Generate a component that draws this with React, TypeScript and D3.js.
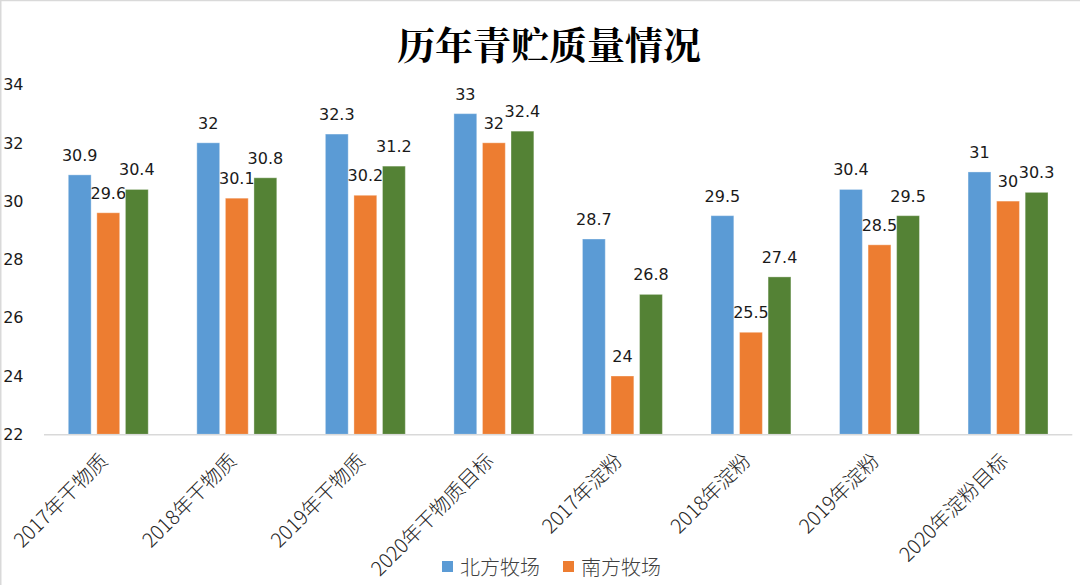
import React from "react";
import * as d3 from "d3";

const categories = [
  "2017年干物质",
  "2018年干物质",
  "2019年干物质",
  "2020年干物质目标",
  "2017年淀粉",
  "2018年淀粉",
  "2019年淀粉",
  "2020年淀粉目标",
];
const seriesNames = ["北方牧场", "南方牧场", "系列3"];
const north = [30.9, 32, 32.3, 33, 28.7, 29.5, 30.4, 31];
const south = [29.6, 30.1, 30.2, 32, 24, 25.5, 28.5, 30];
const third = [30.4, 30.8, 31.2, 32.4, 26.8, 27.4, 29.5, 30.3];
const yTicks = [22, 24, 26, 28, 30, 32, 34];
const colors = ["#5B9BD5", "#ED7D31", "#548235"];
const legendSeries = [0, 1];

const W = 1080;
const H = 585;

export default function App() {
  const values = [north, south, third];
  const x0 = d3
    .scaleBand<string>()
    .domain(categories)
    .range([44, 1072.3])
    .paddingInner(0.378)
    .paddingOuter(0.189);
  const x1 = d3
    .scaleBand<number>()
    .domain([0, 1, 2])
    .range([0, x0.bandwidth()])
    .paddingInner(0.2);
  const y = d3.scaleLinear().domain([22, 34]).range([434.3, 84.5]);

  const font = "'DejaVu Sans', sans-serif";
  const cjk = "'Noto Sans CJK SC', sans-serif";

  return (
    <svg
      width={W}
      height={H}
      style={{ position: "fixed", left: 0, top: 0, background: "#fff" }}
    >
      <rect x={0} y={0} width={W} height={H} fill="#fff" />
      <line x1={0} y1={0.5} x2={W} y2={0.5} stroke="#d9d9d9" strokeWidth={1.5} />
      <line x1={0.75} y1={0} x2={0.75} y2={H} stroke="#d9d9d9" strokeWidth={1.5} />

      <text
        x={549}
        y={59}
        textAnchor="middle"
        fontFamily="'Noto Serif CJK SC', 'Noto Sans CJK SC', serif"
        fontWeight={700}
        fontSize={38}
        fill="#000"
      >
        历年青贮质量情况
      </text>

      {yTicks.map((t) => (
        <text
          key={t}
          x={23.5}
          y={y(t)}
          dy="0.36em"
          textAnchor="end"
          fontFamily={font}
          fontSize={16}
          fill="#1a1a1a"
        >
          {t}
        </text>
      ))}

      {categories.map((c, i) => (
        <g key={c} transform={`translate(${x0(c)},0)`}>
          {values.map((vals, s) => {
            const bx = x1(s)!;
            const top = y(vals[i]);
            return (
              <g key={s}>
                <rect
                  x={bx}
                  y={top}
                  width={x1.bandwidth()}
                  height={y(22) - top}
                  fill={colors[s]}
                  stroke="#ffffff"
                  strokeOpacity={0.35}
                  strokeWidth={1}
                />
                <text
                  x={bx + x1.bandwidth() / 2}
                  y={top - 14}
                  textAnchor="middle"
                  fontFamily={font}
                  fontSize={16}
                  fill="#1a1a1a"
                >
                  {vals[i]}
                </text>
              </g>
            );
          })}
        </g>
      ))}

      <line x1={44} x2={1072.3} y1={434.8} y2={434.8} stroke="#d9d9d9" strokeWidth={1.6} />

      {categories.map((c) => {
        const cx = x0(c)! + x0.bandwidth() / 2 + 1;
        return (
          <text
            key={c}
            transform={`translate(${cx},462) rotate(-45)`}
            textAnchor="end"
            fontFamily={cjk}
            fontWeight={300}
            fontSize={20}
            fill="#262626"
          >
            {c}
          </text>
        );
      })}

      {legendSeries.map((s, k) => {
        const lx = 442 + k * 121;
        return (
          <g key={s}>
            <rect x={lx} y={561} width={11} height={11} fill={colors[s]} />
            <text
              x={lx + 18}
              y={566.5}
              dominantBaseline="central"
              fontFamily={cjk}
              fontWeight={300}
              fontSize={20}
              fill="#404040"
            >
              {seriesNames[s]}
            </text>
          </g>
        );
      })}
    </svg>
  );
}
